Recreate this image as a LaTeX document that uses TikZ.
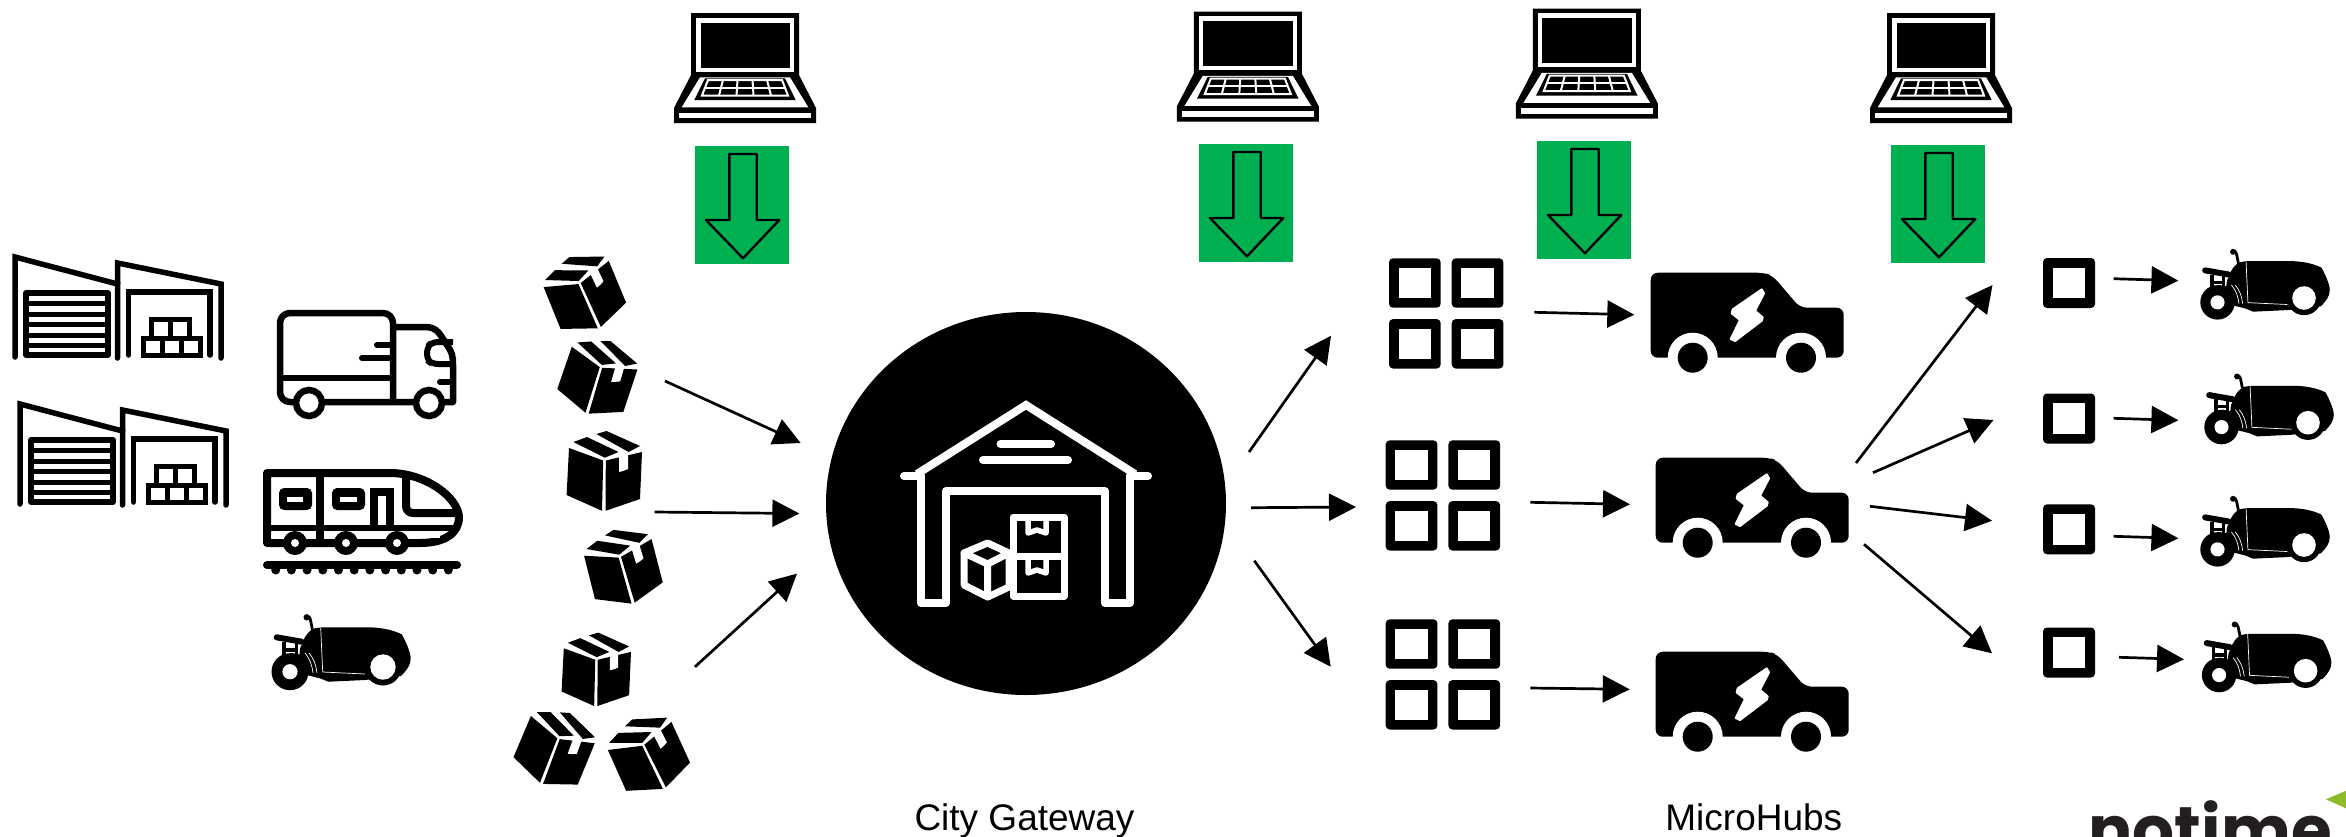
\documentclass[tikz,border=0pt]{standalone}
\usepackage{fontspec}
\setmainfont{Liberation Sans}
\newfontfamily\logofont{Poppins}
\usetikzlibrary{arrows.meta}
\definecolor{boxgreen}{HTML}{00B050}
\definecolor{logogreen}{HTML}{8DBB2B}
\definecolor{logoblack}{HTML}{231F20}
\tikzset{
  px/.style={line width=#1*.5pt},
  flow/.style={px=2.7,-{Triangle[length=13.5pt,width=13.5pt]}},
  caption/.style={anchor=base,inner sep=0pt,font=\fontsize{18.5}{22}\selectfont},
  warehouse/.pic={
    \draw[px=5.5,line cap=round,miter limit=10] (15,357)--(15,257)--(117.5,284)--(117.5,358);
    \draw[px=5.5,line cap=round,miter limit=10] (117.5,284)--(117.5,263)--(221,284)--(221,358);
    \draw[px=5.5,line join=round] (26,293) rectangle (108,355);
    \foreach \yy in {303.5,314,324.5,335,345.5}{\draw[px=5] (26,\yy)--(108,\yy);}
    \draw[px=5.5,line cap=round] (128.5,355)--(128.5,292)--(210,292)--(210,355);
    \draw[px=5] (143,338) rectangle (200,355);
    \draw[px=5] (162,338)--(162,355) (181,338)--(181,355);
    \draw[px=5] (151,319) rectangle (189,338);
    \draw[px=5] (170,319)--(170,338);
  },
  truckicon/.pic={
    \draw[px=6.5,line join=round,rounded corners=5pt] (393,402)--(393,313)--(280,313)--(280,402)--(393,402);
    \draw[px=6.5,line join=round] (393,327)--(425,327) .. controls (438,327) and (440,335) .. (447,345) .. controls (452,352) and (453,356) .. (453,365) -- (453,402) -- (393,402);
    \draw[px=6,rounded corners=3pt] (453,342)--(432,342)--(427,347)--(427,360)--(432,364)--(453,364);
    \draw[px=6] (280,378)--(393,378);
    \draw[px=6,line cap=round] (377,345)--(390,345) (362,358)--(390,358) (440,382)--(453,382);
    \draw[px=6.5,fill=white] (309,403) circle[radius=13];
    \draw[px=6.5,fill=white] (429,403) circle[radius=13];
  },
  trainicon/.pic={
    \draw[px=8,line join=round] (267,473)--(390,473) .. controls (425,473) and (458,497) .. (459,517) .. controls (459,533) and (445,543) .. (420,543) -- (267,543) -- cycle;
    \draw[px=6] (267,528)--(457,528);
    \draw[white,px=4] (271,535.5)--(440,535.5);
    \draw[px=8] (320,473)--(320,545);
    \fill[rounded corners=2.5pt] (279,488) rectangle (312,510);
    \fill[white] (287,497) rectangle (303,502);
    \fill[rounded corners=2.5pt] (332,488) rectangle (365,510);
    \fill[white] (340,497) rectangle (357,502);
    \draw[px=8] (374,528)--(374,492)--(390,492)--(390,528);
    \draw[px=8] (406,473)--(406,506) .. controls (406,510) and (409,513) .. (413,513)--(458,513);
    \foreach \wx in {295,346,397}{
      \fill (\wx,543) circle[radius=12];
      \fill[white] (\wx,543) circle[radius=4];
    }
    \draw[px=8,line cap=round] (267,565)--(457,565);
    \foreach \bi in {0,...,11}{\fill (275.7+15.7*\bi,570) circle[radius=4.5];}
  },
  robot/.pic={
    \fill[line join=round] (-61.3,-39.7)--(-16.3,-39.7) .. controls (-5,-39.7) and (8,-38) .. (18.7,-32.7)
      .. controls (22,-27) and (27.7,-15) .. (27.7,-8.7) .. controls (27.7,-2) and (24,3) .. (18,9)
      -- (-18,13) -- (-54.7,14.7) -- (-63,11.3) -- (-76.3,8) -- (-85,3)
      .. controls (-83,-10) and (-84,-20) .. (-81.3,-22) .. controls (-79,-30) and (-74,-37) .. (-68,-38.7) -- cycle;
    \fill (0,0) circle[radius=18.5];
    \fill[white] (0,0) circle[radius=12.7];
    \fill (-93,4.7) circle[radius=18.5];
    \fill (-108,-2) -- (-92,-14) -- (-80,-12) -- (-78,5) -- cycle;
    \fill[white] (-93,4.7) circle[radius=7.6];
    \draw[px=6,line cap=round] (-106.3,-29.7)--(-81.3,-25.3);
    \draw[px=3.2] (-99,-25)--(-99,-10) (-86.3,-25)--(-86.3,-10) (-99,-17)--(-86.3,-17);
    \draw[px=2.8] (-70.5,-37)--(-72.5,-47) .. controls (-73,-50) and (-75,-51) .. (-76,-50);
    \fill (-76.3,-49.7) circle[radius=3.2];
    \draw[white,px=.7] (-62.3,-39.3)--(-60.3,5)--(-18,7);
    \draw[white,px=.7] (-78,-14) .. controls (-73,-8) and (-71,-2) .. (-70,6);
    \draw[white,px=.7] (-74,-14) .. controls (-69,-8) and (-67,-2) .. (-66,6);
  },
  parcel/.pic={
    \fill (-37.4,25)--(-2,40.8)--(-0.8,-9.5)--(-35,-22)--cycle;
    \fill (1.5,40.8)--(36,29)--(38,-18)--(1.8,-9.5)--cycle;
    \fill[white] (15,-15)--(15,2)--(19,1)--(24,-1)--(24,-18)--cycle;
    \fill (-30.5,-28)--(-17,-33)--(14.5,-18)--(0.7,-12.3)--cycle;
    \fill (-7.6,-36)--(2.5,-39)--(36,-24)--(24.6,-18)--cycle;
  },
  laptop/.pic={
    \fill (-54,0)--(54,0)--(54,62)--(71,95)--(71,110)--(-71,110)--(-71,95)--(-54,62)--cycle;
    \fill[white] (-49,4.7) rectangle (49,58.7);
    \fill (-44.5,9.7) rectangle (44.8,54.7);
    \fill[white] (-45,64.3)--(45,64.3)--(63.3,94.3)--(-63.3,94.3)--cycle;
    \fill (-40,65.3)--(40,65.3)--(50.7,87)--(-50.7,87)--cycle;
    \draw[white,px=2] (-37,67)--(37,67)--(43,82.5)--(-43,82.5)--cycle;
    \draw[white,px=2] (-40,74.7)--(40,74.7);
    \draw[white,px=2] (-22,67)--(-26,82.5) (-7.5,67)--(-8.5,82.5) (7.5,67)--(8.5,82.5) (22,67)--(26,82.5);
    \fill[white] (-66,99.7) rectangle (66,105);
  },
  greenbox/.pic={
    \fill[boxgreen] (0,0) rectangle (94,118);
    \draw[px=2.4,line join=round] (34.3,8)--(61.7,8)--(61.7,74)--(84.3,74)--(48,112.3)--(11,74)--(34.3,74)--cycle;
  },
  hubsquare/.pic={
    \fill[rounded corners=2pt] (0,0) rectangle (52,50);
    \fill[white] (9.7,9.7) rectangle (42.3,40.3);
  },
  hubgrid/.pic={
    \foreach \gx in {0,62.7}{\foreach \gy in {0,60.8}{
      \fill[rounded corners=2pt] (\gx,\gy) rectangle ++(51.7,49.4);
      \fill[white] (\gx+9.7,\gy+9.7) rectangle ++(32.3,30);
    }}
  },
  van/.pic={
    \fill[rounded corners=3.5pt] (0,85)--(0,0)--(113,0)--(122,3)--(149.3,35)--(193,35)--(193,85)--cycle;
    \fill[white] (42,85) circle[radius=25] (150.3,85) circle[radius=25];
    \fill (42,85) circle[radius=15] (150.3,85) circle[radius=15];
    \fill[white,draw=white,px=2,line join=round] (111,16.7)--(113.3,20.7)--(104.3,38)--(112,44.7)--(111,48)--(84.3,68.3)--(80,66.3)--(89.3,47.3)--(81,40.7)--(82,36.7)--cycle;
  }
}
\newcommand{\conn}[3]{%
  \coordinate (#1s) at (#2);
  \coordinate (#1e) at (#3);
  \draw[flow] (#1s)--(#1e);
}
\begin{document}
\begin{tikzpicture}[x=.5pt,y=-.5pt]
\useasboundingbox (0,0) rectangle (2346,836);
\fill[white] (0,0) rectangle (2346,836);
% warehouses and carriers
\pic (wa) at (0,0) {warehouse};
\pic (wb) at (5,147) {warehouse};
\pic (tr) at (0,0) {truckicon};
\pic (tn) at (0,0) {trainicon};
\pic (rb0) at (383,667) {robot};
% parcels
\pic[rotate=25,scale=.96] (p1) at (583,292) {parcel};
\pic[rotate=-16,scale=.95] (p2) at (598,376) {parcel};
\pic (p3) at (604,470) {parcel};
\pic[rotate=17,scale=.95] (p4) at (622,566) {parcel};
\pic[scale=.92] (p5) at (596,668.5) {parcel};
\pic[rotate=-20,scale=.95] (p6) at (555,747) {parcel};
\pic[rotate=27,scale=.95] (p7) at (647,753.5) {parcel};
% laptops and green boxes
\pic (l1) at (745,13) {laptop};
\pic (l2) at (1247.8,11.5) {laptop};
\pic (l3) at (1586.8,8.5) {laptop};
\pic (l4) at (1941,13) {laptop};
\pic (g1) at (695,146) {greenbox};
\pic (g2) at (1199,144) {greenbox};
\pic (g3) at (1537,141) {greenbox};
\pic (g4) at (1891,145) {greenbox};
% city gateway
\fill (1026,503.5) ellipse[x radius=200,y radius=191.5];
\begin{scope}[white,px=8,line join=round,line cap=round]
  \draw (904,476)--(921,476);
  \draw[line join=miter,line cap=butt] (917,474)--(1026,405)--(1135,474);
  \draw (1148,476)--(1130,476);
  \draw (921,476)--(921,603)--(946,603)--(946,491)--(1105,491)--(1105,603)--(1130,603)--(1130,476);
  \draw (1000.5,444)--(1051,444) (983,460)--(1068,460);
  \draw[px=7] (1013,517) rectangle (1064,596);
  \draw[px=7] (1013,556)--(1064,556);
  \draw[px=5.5] (1028,519)--(1028,533)--(1037,530)--(1046,533)--(1046,519);
  \draw[px=5.5] (1028,559)--(1028,573)--(1037,570)--(1046,573)--(1046,559);
  \draw[px=7,fill=black] (987.6,543)--(1009,553)--(1009,587)--(987.6,597)--(964,585)--(964,553)--cycle;
  \draw[px=7] (964,553)--(987.6,564)--(1009,553) (987.6,564)--(987.6,597);
\end{scope}
% hubs and vans
\pic (h1) at (1389,258.3) {hubgrid};
\pic (h2) at (1385.7,440.3) {hubgrid};
\pic (h3) at (1385.7,619.3) {hubgrid};
\pic (v1) at (1650.7,272.7) {van};
\pic (v2) at (1655.7,457.7) {van};
\pic (v3) at (1655.7,651.7) {van};
% single squares and robots
\pic (s1) at (2043,258) {hubsquare};
\pic (s2) at (2043,393.5) {hubsquare};
\pic (s3) at (2043,504.3) {hubsquare};
\pic (s4) at (2043,627.5) {hubsquare};
\pic[scale=.93] (r1) at (2304,298) {robot};
\pic[scale=.93] (r2) at (2308,422.7) {robot};
\pic[scale=.93] (r3) at (2304,545) {robot};
\pic[scale=.93] (r4) at (2305.6,670.7) {robot};
% connectors
\conn{a1}{665,381}{800.7,443}
\conn{a2}{654.7,512}{799.4,513.5}
\conn{a3}{695,666.8}{797,573.6}
\conn{b1}{1249,452}{1331,335.7}
\conn{b2}{1251,507.7}{1356,507}
\conn{b3}{1254.3,560.7}{1330.7,666.7}
\conn{c1}{1534.3,312.3}{1634.3,314.7}
\conn{c2}{1530.3,502.3}{1630,504.3}
\conn{c3}{1530.3,688}{1629.7,689.3}
\conn{d1}{1856,463}{1992.5,285}
\conn{d2}{1873,472.7}{1993.5,420}
\conn{d3}{1870,506.3}{1992,520.7}
\conn{d4}{1864,544.3}{1992,653.3}
\conn{e1}{2113.6,278.7}{2178.4,280.7}
\conn{e2}{2113.6,418.3}{2178.4,420.3}
\conn{e3}{2113.6,536.3}{2178.4,538.3}
\conn{e4}{2119,657.3}{2184,659.3}
% captions
\node[caption] (cg) at (1024.5,830) {City Gateway};
\node[caption] (mh) at (1753.8,830) {MicroHubs};
% logo, cut by the lower edge
\begin{scope}
  \clip (0,0) rectangle (2346,836);
  \node[anchor=base west,inner sep=0pt,text=logoblack,font=\logofont\bfseries\fontsize{33}{36}\selectfont] (logo) at (2088,853) {notime};
  \fill[logogreen] (2326,799.3)--(2346,790.7)--(2346,808.3)--cycle;
\end{scope}
\end{tikzpicture}
\end{document}
